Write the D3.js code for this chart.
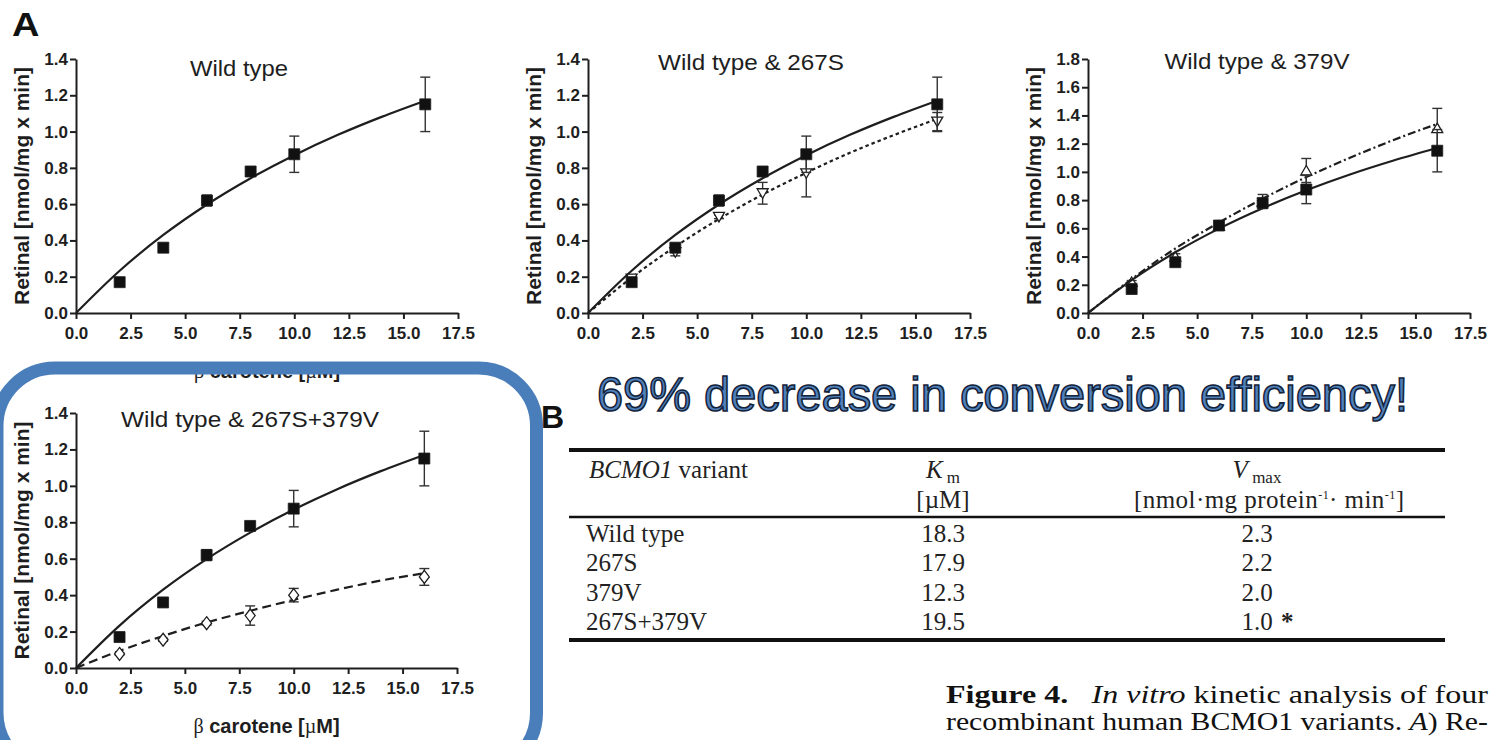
<!DOCTYPE html>
<html>
<head>
<meta charset="utf-8">
<script src="https://cdn.jsdelivr.net/npm/d3@7"></script>
<style>
  html, body { margin: 0; padding: 0; background: #fff; }
  svg { display: block; }
</style>
</head>
<body>
<svg id="fig" width="1491" height="740"></svg>
<script>
// ---- Data: retinal formation rate vs. beta-carotene concentration ----
const concentrations = [2, 4, 6, 8, 10, 16];           // µM
const wtMean   = [0.17, 0.36, 0.62, 0.78, 0.875, 1.15];
const wtSem    = [0.01, 0.02, 0.03, 0.01, 0.10, 0.15];
const s267Mean = [0.19, 0.335, 0.53, 0.66, 0.77, 1.055];
const s267Sem  = [0.01, 0.02, 0.01, 0.06, 0.13, 0.05];
const v379Mean = [0.22, 0.40, 0.62, 0.79, 1.01, 1.31];
const v379Sem  = [0.01, 0.02, 0.02, 0.05, 0.085, 0.14];
const dblMean  = [0.077, 0.155, 0.246, 0.288, 0.40, 0.50];
const dblSem   = [0.005, 0.008, 0.01, 0.053, 0.037, 0.046];

// Fitted Michaelis-Menten curves, sampled along the concentration axis
const fitX    = [0, 2, 4, 6, 8, 10, 12, 14, 16];
const wtFit   = [0, 0.233, 0.43, 0.598, 0.743, 0.87, 0.982, 1.081, 1.17];
const s267Fit = [0, 0.195, 0.366, 0.518, 0.653, 0.773, 0.883, 0.98, 1.07];
const v379Fit = [0, 0.24, 0.457, 0.641, 0.81, 0.963, 1.10, 1.226, 1.34];
const dblFit  = [0, 0.094, 0.176, 0.25, 0.314, 0.374, 0.43, 0.48, 0.52];

const xTicks   = [0, 2.5, 5, 7.5, 10, 12.5, 15, 17.5];
const yTicks14 = [0, 0.2, 0.4, 0.6, 0.8, 1.0, 1.2, 1.4];
const yTicks18 = [0, 0.2, 0.4, 0.6, 0.8, 1.0, 1.2, 1.4, 1.6, 1.8];

const panelTitles = ['Wild type', 'Wild type & 267S', 'Wild type & 379V', 'Wild type & 267S+379V'];
const yLabel = 'Retinal [nmol/mg x min]';

// ---- Kinetic constants table ----
const variants   = ['Wild type', '267S', '379V', '267S+379V'];
const kmValues   = ['18.3', '17.9', '12.3', '19.5'];
const vmaxValues = ['2.3', '2.2', '2.0', '1.0'];
const vmaxMarks  = ['', '', '', '*'];

const headline = '69% decrease in conversion efficiency!';

// ---- Styling / layout ----
const ink = '#1e1e1e';
const sans = '"Liberation Sans", Arial, Helvetica, sans-serif';
const serif = '"Liberation Serif", "Times New Roman", Times, serif';
const svg = d3.select('#fig');

const wt   = { mean: wtMean,   sem: wtSem,   fit: wtFit,   marker: 'square',  dash: null };
const s267 = { mean: s267Mean, sem: s267Sem, fit: s267Fit, marker: 'triDown', dash: '3.5,3' };
const v379 = { mean: v379Mean, sem: v379Sem, fit: v379Fit, marker: 'triUp',   dash: '8,3,2,3' };
const dbl  = { mean: dblMean,  sem: dblSem,  fit: dblFit,  marker: 'diamond', dash: '9,5' };

const panels = [
  { title: panelTitles[0], yMax: 1.4, yTicks: yTicks14, series: [wt],
    left: 76,   right: 458, top: 59,  bottom: 313, titleX: 239,  titleY: 76,  titleLen: 98,  xLabel: true },
  { title: panelTitles[1], yMax: 1.4, yTicks: yTicks14, series: [s267, wt],
    left: 588,  right: 970, top: 59,  bottom: 313, titleX: 751,  titleY: 70,  titleLen: 186, xLabel: false },
  { title: panelTitles[2], yMax: 1.8, yTicks: yTicks18, series: [v379, wt],
    left: 1088, right: 1470, top: 59, bottom: 313, titleX: 1257, titleY: 69,  titleLen: 185, xLabel: false },
  { title: panelTitles[3], yMax: 1.4, yTicks: yTicks14, series: [dbl, wt],
    left: 76,   right: 457, top: 413, bottom: 668, titleX: 250,  titleY: 427, titleLen: 258, xLabel: true }
];

// Marker shapes (custom d3 symbol types)
const markerTypes = {
  square:  { draw(c) { c.rect(-5.5, -5.5, 11, 11); } },
  triDown: { draw(c) { c.moveTo(-5.5, -4.5); c.lineTo(5.5, -4.5); c.lineTo(0, 5); c.closePath(); } },
  triUp:   { draw(c) { c.moveTo(-5.5, 4.5); c.lineTo(5.5, 4.5); c.lineTo(0, -5); c.closePath(); } },
  diamond: { draw(c) { c.moveTo(0, -6.5); c.lineTo(5, 0); c.lineTo(0, 6.5); c.lineTo(-5, 0); c.closePath(); } }
};

function drawPanel(p) {
  const g = svg.append('g');
  const x = d3.scaleLinear().domain([0, 17.5]).range([p.left, p.right]);
  const y = d3.scaleLinear().domain([0, p.yMax]).range([p.bottom, p.top]);

  // axes
  const gx = g.append('g')
    .attr('transform', `translate(0,${p.bottom})`)
    .call(d3.axisBottom(x).tickValues(xTicks).tickFormat(d3.format('.1f'))
      .tickSize(6).tickSizeOuter(0).tickPadding(8));
  const gy = g.append('g')
    .attr('transform', `translate(${p.left},0)`)
    .call(d3.axisLeft(y).tickValues(p.yTicks).tickFormat(d3.format('.1f'))
      .tickSize(6).tickSizeOuter(0).tickPadding(2));
  [gx, gy].forEach(a => {
    a.select('.domain').attr('stroke', ink).attr('stroke-width', 2);
    a.selectAll('.tick line').attr('stroke', ink).attr('stroke-width', 2);
    a.selectAll('.tick text').attr('fill', ink)
      .style('font-family', sans).style('font-size', '17px').style('font-weight', 'bold');
  });

  // title
  g.append('text')
    .attr('x', p.titleX).attr('y', p.titleY)
    .attr('text-anchor', 'middle')
    .attr('textLength', p.titleLen).attr('lengthAdjust', 'spacingAndGlyphs')
    .style('font-family', sans).style('font-size', '22px').attr('fill', ink)
    .text(p.title);

  // y axis label
  const cy = (p.top + p.bottom) / 2;
  g.append('text')
    .attr('transform', `translate(${p.left - 47},${cy}) rotate(-90)`)
    .attr('text-anchor', 'middle')
    .style('font-family', sans).style('font-size', '21px').style('font-weight', 'bold')
    .attr('fill', ink)
    .text(yLabel);

  // x axis label
  if (p.xLabel) {
    const t = g.append('text')
      .attr('x', (p.left + p.right) / 2).attr('y', p.bottom + 65)
      .attr('text-anchor', 'middle')
      .style('font-family', sans).style('font-size', '20px').style('font-weight', 'bold')
      .attr('fill', ink);
    t.append('tspan').style('font-family', serif).style('font-weight', 'normal').text('β');
    t.append('tspan').text(' carotene [');
    t.append('tspan').style('font-family', serif).style('font-weight', 'normal').text('µ');
    t.append('tspan').text('M]');
  }

  const line = d3.line()
    .x((d, i) => x(fitX[i]))
    .y(d => y(d))
    .curve(d3.curveMonotoneX);

  p.series.forEach(s => {
    const open = s.marker !== 'square';
    // fitted curve
    g.append('path')
      .attr('d', line(s.fit))
      .attr('fill', 'none').attr('stroke', ink).attr('stroke-width', 2.2)
      .attr('stroke-dasharray', s.dash);
    // error bars
    const eb = g.append('g').attr('stroke', '#333').attr('stroke-width', 1.4);
    concentrations.forEach((c, i) => {
      const cx = x(c), lo = y(s.mean[i] - s.sem[i]), hi = y(s.mean[i] + s.sem[i]);
      eb.append('line').attr('x1', cx).attr('x2', cx).attr('y1', lo).attr('y2', hi);
      eb.append('line').attr('x1', cx - 5).attr('x2', cx + 5).attr('y1', lo).attr('y2', lo);
      eb.append('line').attr('x1', cx - 5).attr('x2', cx + 5).attr('y1', hi).attr('y2', hi);
    });
    // markers
    const sym = d3.symbol().type(markerTypes[s.marker]);
    g.append('g').selectAll('path')
      .data(concentrations)
      .join('path')
      .attr('transform', (c, i) => `translate(${x(c)},${y(s.mean[i])})`)
      .attr('d', sym())
      .attr('fill', open ? '#fff' : '#111')
      .attr('stroke', ink).attr('stroke-width', open ? 1.3 : 0.8);
  });
}

panels.forEach(drawPanel);

// panel letters
svg.append('g').attr('transform', 'translate(12,36) scale(1.15,1)')
  .append('text')
  .style('font-family', sans).style('font-size', '33px').style('font-weight', '900')
  .attr('fill', '#111').text('A');
svg.append('text').attr('x', 541).attr('y', 428)
  .style('font-family', sans).style('font-size', '32px').style('font-weight', 'bold')
  .attr('fill', '#111').text('B');

// highlight frame around the double-mutant panel
svg.append('rect')
  .attr('x', -3).attr('y', 368).attr('width', 539.5).attr('height', 403)
  .attr('rx', 58).attr('ry', 58)
  .attr('fill', 'none').attr('stroke', '#4a7ebb').attr('stroke-width', 13);

// headline
svg.append('text')
  .attr('x', 597).attr('y', 411)
  .attr('textLength', 811).attr('lengthAdjust', 'spacingAndGlyphs')
  .style('font-family', sans).style('font-size', '49px')
  .attr('fill', '#4f81bd').attr('stroke', '#15233a').attr('stroke-width', 1.6)
  .text(headline);

// ---- Table B ----
const tb = svg.append('g').style('font-family', serif).attr('fill', '#222');
const ruleX1 = 569, ruleX2 = 1445;
tb.append('line').attr('x1', ruleX1).attr('x2', ruleX2).attr('y1', 450).attr('y2', 450)
  .attr('stroke', '#111').attr('stroke-width', 4);
tb.append('line').attr('x1', ruleX1).attr('x2', ruleX2).attr('y1', 517).attr('y2', 517)
  .attr('stroke', '#111').attr('stroke-width', 2.7);
tb.append('line').attr('x1', ruleX1).attr('x2', ruleX2).attr('y1', 640).attr('y2', 640)
  .attr('stroke', '#111').attr('stroke-width', 4);

const colName = 586, colKm = 943, colVmax = 1257;
const h1 = tb.append('text').attr('x', colName + 3).attr('y', 478).style('font-size', '25px');
h1.append('tspan').style('font-style', 'italic').text('BCMO1');
h1.append('tspan').text(' variant');

const hk = tb.append('text').attr('x', colKm).attr('y', 478).attr('text-anchor', 'middle').style('font-size', '25px');
hk.append('tspan').style('font-style', 'italic').text('K');
hk.append('tspan').attr('dy', 5).style('font-size', '17px').text(' m');
tb.append('text').attr('x', colKm).attr('y', 508).attr('text-anchor', 'middle')
  .style('font-size', '25px').text('[µM]');

const hv = tb.append('text').attr('x', colVmax).attr('y', 478).attr('text-anchor', 'middle').style('font-size', '25px');
hv.append('tspan').style('font-style', 'italic').text('V');
hv.append('tspan').attr('dy', 5).style('font-size', '17px').text(' max');

const hu = tb.append('text').attr('x', 1134).attr('y', 508)
  .attr('textLength', 270).attr('lengthAdjust', 'spacing').style('font-size', '25px');
hu.append('tspan').text('[nmol·mg protein');
hu.append('tspan').attr('dy', -9).style('font-size', '12px').text('-1');
hu.append('tspan').attr('dy', 9).text('· min');
hu.append('tspan').attr('dy', -9).style('font-size', '12px').text('-1');
hu.append('tspan').attr('dy', 9).text(']');

const rowY = d3.scalePoint().domain(variants).range([542, 630]);
variants.forEach((v, i) => {
  const yy = rowY(v);
  tb.append('text').attr('x', colName).attr('y', yy).style('font-size', '25px').text(v);
  tb.append('text').attr('x', colKm).attr('y', yy).attr('text-anchor', 'middle').style('font-size', '25px').text(kmValues[i]);
  tb.append('text').attr('x', colVmax).attr('y', yy).attr('text-anchor', 'middle').style('font-size', '25px').text(vmaxValues[i]);
  if (vmaxMarks[i]) {
    tb.append('text').attr('x', colVmax + 24).attr('y', yy).style('font-size', '25px')
      .style('font-weight', 'bold').text(vmaxMarks[i]);
  }
});

// ---- Caption (justified to the column width) ----
const capX = 946, capWidth = 542;
const cap = svg.append('g').style('font-family', serif).style('font-size', '25px').attr('fill', '#111');
const l1 = cap.append('text').attr('x', capX).attr('y', 703)
  .attr('textLength', capWidth).attr('lengthAdjust', 'spacingAndGlyphs');
l1.append('tspan').style('font-weight', 'bold').text('Figure 4.');
l1.append('tspan').attr('dx', 12).style('font-style', 'italic').text(' In vitro');
l1.append('tspan').text(' kinetic analysis of four');
const l2 = cap.append('text').attr('x', capX).attr('y', 730)
  .attr('textLength', capWidth).attr('lengthAdjust', 'spacingAndGlyphs');
l2.append('tspan').text('recombinant human BCMO1 variants. ');
l2.append('tspan').style('font-style', 'italic').text('A');
l2.append('tspan').text(') Re-');
</script>
</body>
</html>
